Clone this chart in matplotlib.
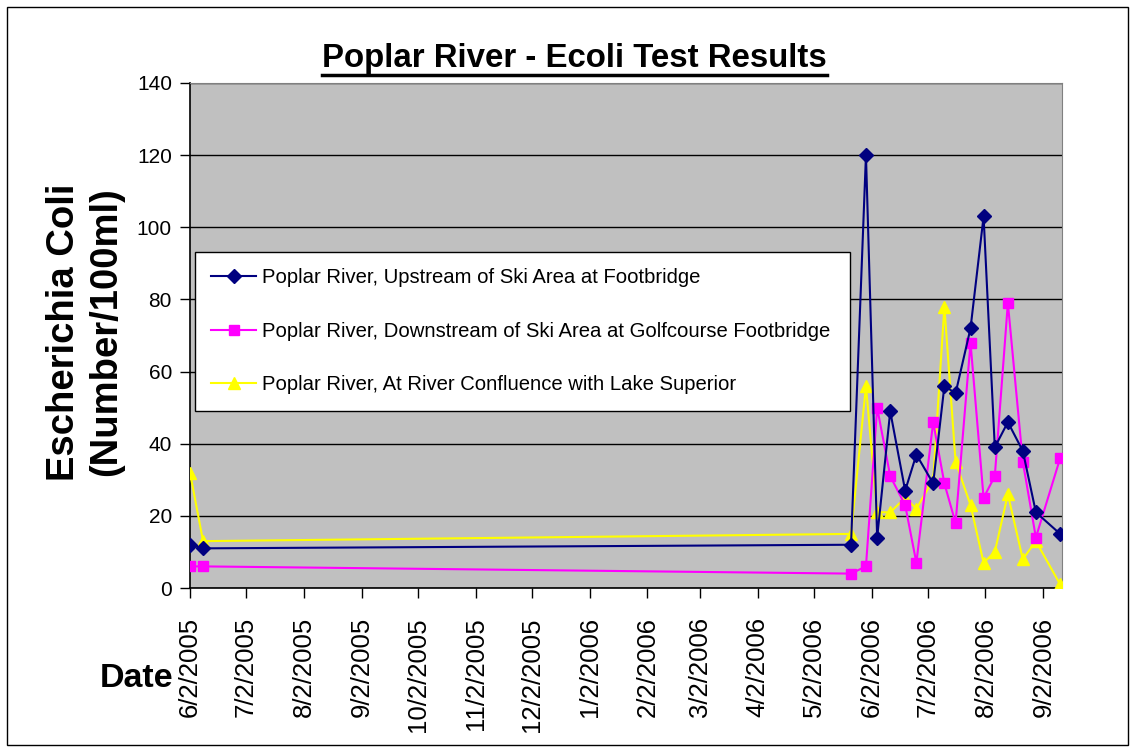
import datetime as dt
import matplotlib
matplotlib.use("Agg")
import matplotlib.pyplot as plt
from matplotlib.lines import Line2D
from matplotlib.patches import Rectangle

plt.rcParams['font.family'] = ['Liberation Sans', 'DejaVu Sans']

# sample dates (m/d/Y) shared by the three sites
dates = ["6/2/2005", "6/9/2005", "5/22/2006", "5/30/2006", "6/5/2006", "6/12/2006",
         "6/20/2006", "6/26/2006", "7/5/2006", "7/11/2006", "7/17/2006", "7/25/2006",
         "8/1/2006", "8/7/2006", "8/14/2006", "8/22/2006", "8/29/2006", "9/11/2006"]
upstream = [12, 11, 12, 120, 14, 49, 27, 37, 29, 56, 54, 72, 103, 39, 46, 38, 21, 15]
downstream = [6, 6, 4, 6, 50, 31, 23, 7, 46, 29, 18, 68, 25, 31, 79, 35, 14, 36]
confluence = [32, 13, 15, 56, 21, 21, 25, 22, 30, 78, 35, 23, 7, 10, 26, 8, 13, 1]

labels = ["Poplar River, Upstream of Ski Area at Footbridge",
          "Poplar River, Downstream of Ski Area at Golfcourse Footbridge",
          "Poplar River, At River Confluence with Lake Superior"]

tick_labels = ["6/2/2005", "7/2/2005", "8/2/2005", "9/2/2005", "10/2/2005", "11/2/2005",
               "12/2/2005", "1/2/2006", "2/2/2006", "3/2/2006", "4/2/2006", "5/2/2006",
               "6/2/2006", "7/2/2006", "8/2/2006", "9/2/2006"]

def parse(s):
    return dt.datetime.strptime(s, "%m/%d/%Y")

x = [parse(d) for d in dates]
xticks = [parse(d) for d in tick_labels]

fig = plt.figure(figsize=(11.35, 7.51), dpi=100)
ax = fig.add_axes([0.1674, 0.2170, 0.7683, 0.6725])
ax.set_facecolor("#C0C0C0")

ax.plot(x, upstream, color="#000080", lw=1.5, marker="D", ms=7, label=labels[0], zorder=5)
ax.plot(x, downstream, color="#FF00FF", lw=1.5, marker="s", ms=7, label=labels[1], zorder=4)
ax.plot(x, confluence, color="#FFFF00", lw=1.5, marker="^", ms=9, label=labels[2], zorder=3)

ax.set_ylim(0, 140)
ax.set_yticks(range(0, 141, 20))
ax.yaxis.grid(True, color="black", lw=1)
ax.set_axisbelow(True)
ax.set_xlim(parse("6/2/2005"), parse("9/12/2006"))
ax.set_xticks(xticks)
ax.set_xticklabels(tick_labels, rotation=90)
ax.tick_params(axis="both", direction="out", length=7, width=1, color="black")
ax.tick_params(axis="y", labelsize=15, pad=6)
ax.tick_params(axis="x", labelsize=18.5, pad=14)

for s in ["top", "right"]:
    ax.spines[s].set_color("#808080")
for s in ["left", "bottom"]:
    ax.spines[s].set_color("black")
    ax.spines[s].set_linewidth(1.2)

leg = ax.legend(loc="upper left", bbox_to_anchor=(0.006, 0.665, 0.751, 0.0), mode="expand",
                fontsize=14.6, frameon=True, fancybox=False, framealpha=1, edgecolor="black",
                labelspacing=1.7, handlelength=2.2, handletextpad=0.3, borderpad=0.8,
                borderaxespad=0)
leg.get_frame().set_linewidth(1)

fig.text(0.075, 0.558, "Escherichia Coli\n(Number/100ml)", rotation=90, ha="center", va="center",
         fontsize=27.5, fontweight="bold", linespacing=1.22)
fig.text(0.1207, 0.0972, "Date", ha="center", va="center", fontsize=24.5, fontweight="bold")

title = fig.text(0.506, 0.922, "Poplar River - Ecoli Test Results", ha="center", va="center",
                 fontsize=23.8, fontweight="bold")

# underline the title
fig.canvas.draw()
bb = title.get_window_extent().transformed(fig.transFigure.inverted())
fig.add_artist(Line2D([bb.x0, bb.x1], [bb.y0 - 0.001, bb.y0 - 0.001], color="black", lw=2.5))

# outer frame of the chart
fig.add_artist(Rectangle((0.006, 0.008), 0.988, 0.983, fill=False, edgecolor="black",
                         lw=1, transform=fig.transFigure))

fig.savefig("out.png", dpi=100)
